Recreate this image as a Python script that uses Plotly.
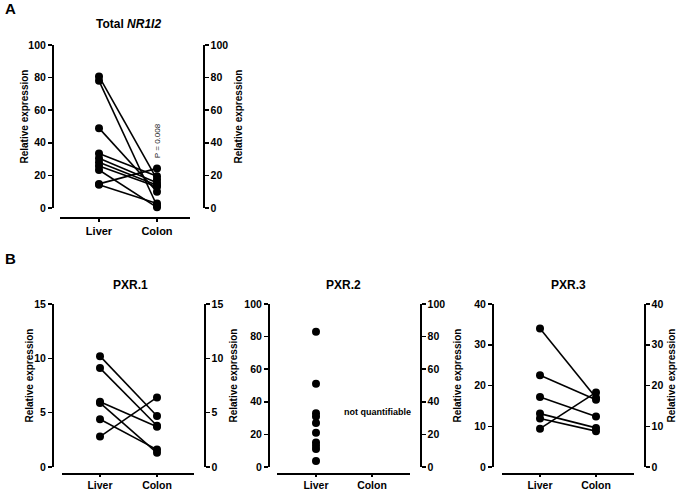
import plotly.graph_objects as go

W, H = 678, 491
FONT = "Liberation Sans, Arial, sans-serif"

# ---------------- data ----------------
categories = ["Liver", "Colon"]

nr1i2_liver = [80.7, 78.0, 49.0, 33.5, 30.5, 28.0, 25.8, 23.3, 14.8, 14.2]
nr1i2_colon = [17.5, 1.4, 10.0, 19.5, 15.5, 14.0, 13.0, 0.4, 24.3, 2.8]

pxr1_liver = [10.2, 9.1, 6.0, 5.9, 4.4, 2.8]
pxr1_colon = [4.7, 3.8, 3.7, 1.3, 1.6, 6.4]

pxr2_liver = [83.0, 51.0, 33.0, 31.0, 27.0, 21.0, 15.0, 13.0, 11.0, 3.7]

pxr3_liver = [34.0, 22.5, 17.2, 13.1, 11.9, 9.4]
pxr3_colon = [17.0, 16.5, 12.4, 9.6, 8.8, 18.3]

titles = ["Total <i>NR1I2</i>", "PXR.1", "PXR.2", "PXR.3"]
y_max = [100, 15, 100, 40]
y_dtick = [20, 5, 20, 10]
p_value_text = "P = 0.008"
nq_text = "not quantifiable"

# ------------- pixel layout -------------
geo = [
    dict(yl=52, yr=203, y0=208, yt=45, xl=99, xc=157, b0=60, b1=190, by=217, tx=128, ty=24, ltx=24, rtx=238),
    dict(yl=52, yr=204, y0=467, yt=304, xl=100, xc=157, b0=62, b1=194, by=473, tx=130, ty=285, ltx=29, rtx=None),
    dict(yl=268, yr=420, y0=467, yt=304, xl=316, xc=372, b0=277, b1=410, by=473, tx=343, ty=285, ltx=233, rtx=None),
    dict(yl=492, yr=644, y0=467, yt=304, xl=540, xc=596, b0=502, b1=634, by=473, tx=568, ty=285, ltx=457, rtx=671),
]

fx = lambda x: x / W
fy = lambda y: 1 - y / H

fig = go.Figure()
layout = dict(
    template="none",
    width=W, height=H, margin=dict(l=0, r=0, t=0, b=0, pad=0),
    paper_bgcolor="white", plot_bgcolor="rgba(0,0,0,0)",
    showlegend=False, font=dict(family=FONT, color="black"),
)
annotations = []

def pairs(a, b):
    xs, ys = [], []
    for va, vb in zip(a, b):
        xs += [0, 1, None]
        ys += [va, vb, None]
    return xs, ys

series = [
    pairs(nr1i2_liver, nr1i2_colon),
    pairs(pxr1_liver, pxr1_colon),
    ([0] * len(pxr2_liver), pxr2_liver),
    pairs(pxr3_liver, pxr3_colon),
]

axfont = dict(family=FONT, size=10.5, color="black", weight="bold")

for i, g in enumerate(geo):
    xn = f"xaxis{i+1 if i else ''}"
    xr = f"x{i+1 if i else ''}"
    ya_n, yb_n = 2 * i + 1, 2 * i + 2
    yan = f"yaxis{ya_n if ya_n > 1 else ''}"
    ybn = f"yaxis{yb_n}"
    yar = f"y{ya_n if ya_n > 1 else ''}"
    ybr = f"y{yb_n}"
    u = g["xc"] - g["xl"]
    layout[xn] = dict(
        domain=[fx(g["b0"]), fx(g["b1"])],
        range=[(g["b0"] - g["xl"]) / u, (g["b1"] - g["xl"]) / u],
        anchor="free", position=fy(g["by"]), automargin=False,
        showline=True, linecolor="black", linewidth=1.5,
        ticks="outside", ticklen=3 if i == 0 else 2, tickwidth=1.5, tickcolor="black",
        tickvals=[0, 1], ticktext=categories,
        tickfont=dict(family=FONT, size=11 if i == 0 else 10.5, color="black", weight="bold"),
        showgrid=False, zeroline=False, fixedrange=True,
    )
    common = dict(
        domain=[fy(g["y0"]), fy(g["yt"])], range=[0, y_max[i]], dtick=y_dtick[i], tick0=0,
        anchor="free", automargin=False, showline=True, linecolor="black", linewidth=1.5,
        ticks="outside", ticklen=4, tickwidth=1.5, tickcolor="black",
        tickfont=axfont, showgrid=False, zeroline=False, fixedrange=True,
    )
    layout[yan] = dict(common, position=fx(g["yl"]), side="left")
    layout[ybn] = dict(common, position=fx(g["yr"]), side="right", overlaying=yar)

    xs, ys = series[i]
    fig.add_trace(go.Scatter(
        x=xs, y=ys, xaxis=xr, yaxis=yar,
        mode="markers" if i == 2 else "lines+markers",
        line=dict(color="black", width=1.6),
        marker=dict(color="black", size=8),
        cliponaxis=False, hoverinfo="skip",
    ))
    fig.add_trace(go.Scatter(x=[None], y=[None], xaxis=xr, yaxis=ybr, hoverinfo="skip"))

    annotations.append(dict(
        text=titles[i], x=fx(g["tx"]), y=fy(g["ty"]), xref="paper", yref="paper",
        showarrow=False, font=dict(family=FONT, size=12, color="black", weight="bold"),
        xanchor="center", yanchor="middle",
    ))
    ymid = (g["y0"] + g["yt"]) / 2 - 10
    for tx in (g["ltx"], g["rtx"]):
        if tx is None:
            continue
        annotations.append(dict(
            text="Relative expression", x=fx(tx), y=fy(ymid), xref="paper", yref="paper",
            showarrow=False, textangle=-90,
            font=dict(family=FONT, size=10, color="black", weight="bold"),
            xanchor="center", yanchor="middle",
        ))

annotations.append(dict(
    text=p_value_text, x=1, y=41, xref="x", yref="y", showarrow=False, textangle=-90,
    font=dict(family=FONT, size=8, color="#222222"), xanchor="center", yanchor="middle",
))
annotations.append(dict(
    text=nq_text, x=1.1, y=34, xref="x3", yref="y5", showarrow=False,
    font=dict(family=FONT, size=9, color="black", weight="bold"), xanchor="center", yanchor="middle",
))
for letter, yy in (("A", 9), ("B", 258)):
    annotations.append(dict(
        text=letter, x=fx(3), y=fy(yy), xref="paper", yref="paper", showarrow=False,
        font=dict(family=FONT, size=15, color="black", weight="bold"), xanchor="left", yanchor="middle",
    ))

layout["annotations"] = annotations
fig.update_layout(**layout)
fig.write_html(
    "out.html",
    config={"displayModeBar": False, "staticPlot": True},
    post_script="document.body.style.margin='0';document.body.style.overflow='hidden';",
)
